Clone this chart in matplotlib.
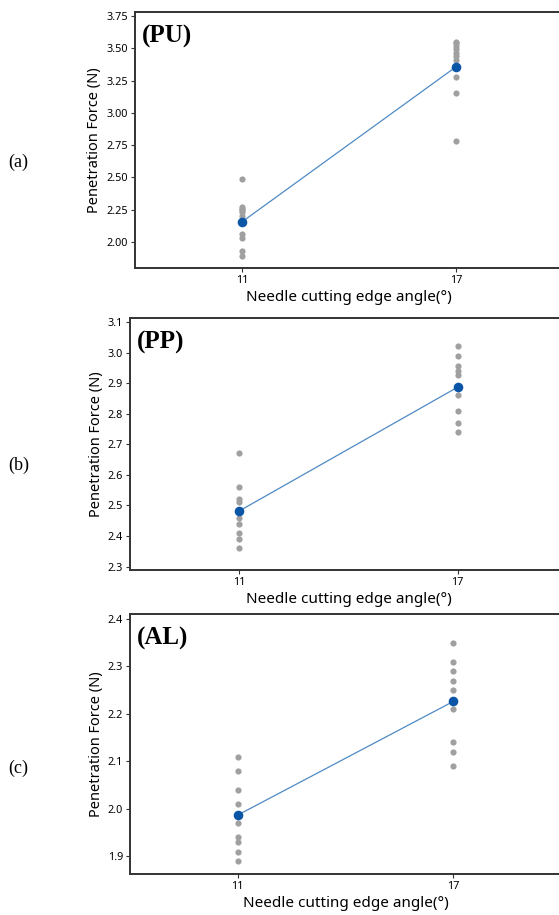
import numpy as np
import matplotlib.pyplot as plt
from matplotlib.ticker import FormatStrFormatter

# cutting edge angles (deg)
angles = [11, 17]

# individual penetration forces (N)
pu_11 = [2.49, 2.27, 2.26, 2.25, 2.23, 2.20, 2.06, 2.03, 1.93, 1.89]
pu_17 = [3.55, 3.54, 3.52, 3.49, 3.46, 3.44, 3.41, 3.28, 3.15, 2.78]
pp_11 = [2.67, 2.56, 2.52, 2.51, 2.48, 2.46, 2.44, 2.41, 2.39, 2.36]
pp_17 = [3.02, 2.99, 2.955, 2.94, 2.925, 2.86, 2.81, 2.77, 2.74]
al_11 = [2.11, 2.08, 2.04, 2.01, 1.97, 1.94, 1.93, 1.91, 1.89]
al_17 = [2.35, 2.31, 2.29, 2.27, 2.25, 2.21, 2.14, 2.12, 2.09]

# group means
pu_mean = [2.157, 3.356]
pp_mean = [2.482, 2.887]
al_mean = [1.987, 2.226]

materials = ["(PU)", "(PP)", "(AL)"]
panel_tags = ["(a)", "(b)", "(c)"]
yticks_all = [[2.00, 2.25, 2.50, 2.75, 3.00, 3.25, 3.50, 3.75],
              [2.3, 2.4, 2.5, 2.6, 2.7, 2.8, 2.9, 3.0, 3.1],
              [1.9, 2.0, 2.1, 2.2, 2.3, 2.4]]
ylims = [(1.80, 3.78), (2.289, 3.113), (1.863, 2.410)]
fmts = ["%.2f", "%.1f", "%.1f"]

points = [(pu_11, pu_17), (pp_11, pp_17), (al_11, al_17)]
means = [pu_mean, pp_mean, al_mean]

W, H = 559, 915
fig = plt.figure(figsize=(W / 100, H / 100), dpi=100)

# axes boxes in pixels: left, top, bottom, right (right runs off the canvas)
boxes = [(135, 12, 268, 563), (130, 318, 570, 567), (130, 614, 874, 561)]
tag_y = [162, 465, 768]

sans = ["Noto Sans", "DejaVu Sans"]
serif = ["Liberation Serif", "DejaVu Serif"]

for i in range(3):
    l, t, b, r = boxes[i]
    ax = fig.add_axes([l / W, 1 - b / H, (r - l) / W, (b - t) / H])
    lo, hi = points[i]
    ax.scatter([angles[0]] * len(lo), lo, s=20, color="#a0a0a0", zorder=2, linewidths=0)
    ax.scatter([angles[1]] * len(hi), hi, s=20, color="#a0a0a0", zorder=2, linewidths=0)
    ax.plot(angles, means[i], color="#4f8ac4", lw=0.9, zorder=3)
    ax.scatter(angles, means[i], s=48, color="#0a55a6", zorder=4, linewidths=0)

    ax.set_xlim(8, 20)
    ax.set_ylim(*ylims[i])
    ax.set_xticks(angles)
    ax.set_xticklabels([str(a) for a in angles], fontfamily=sans)
    ax.set_yticks(yticks_all[i])
    ax.yaxis.set_major_formatter(FormatStrFormatter(fmts[i]))
    for lab in ax.get_yticklabels():
        lab.set_fontfamily(sans)
    ax.tick_params(axis="both", labelsize=7.8, length=3, width=0.8, pad=2, color="#333333")

    for s in ax.spines.values():
        s.set_linewidth(1.4)
        s.set_color("#333333")

    ax.set_ylabel("Penetration Force (N)", fontsize=10.5, fontfamily=sans, labelpad=3)
    ax.set_xlabel("Needle cutting edge angle(°)", fontsize=11, fontfamily=sans, labelpad=3)

    ax.text(0.015, 0.95, materials[i], transform=ax.transAxes, fontsize=18,
            fontweight="bold", fontfamily=serif, va="top", ha="left")

    fig.text(8 / W, 1 - tag_y[i] / H, panel_tags[i], fontsize=13, fontfamily=serif,
             va="center", ha="left")

fig.savefig("out.png", dpi=100)
